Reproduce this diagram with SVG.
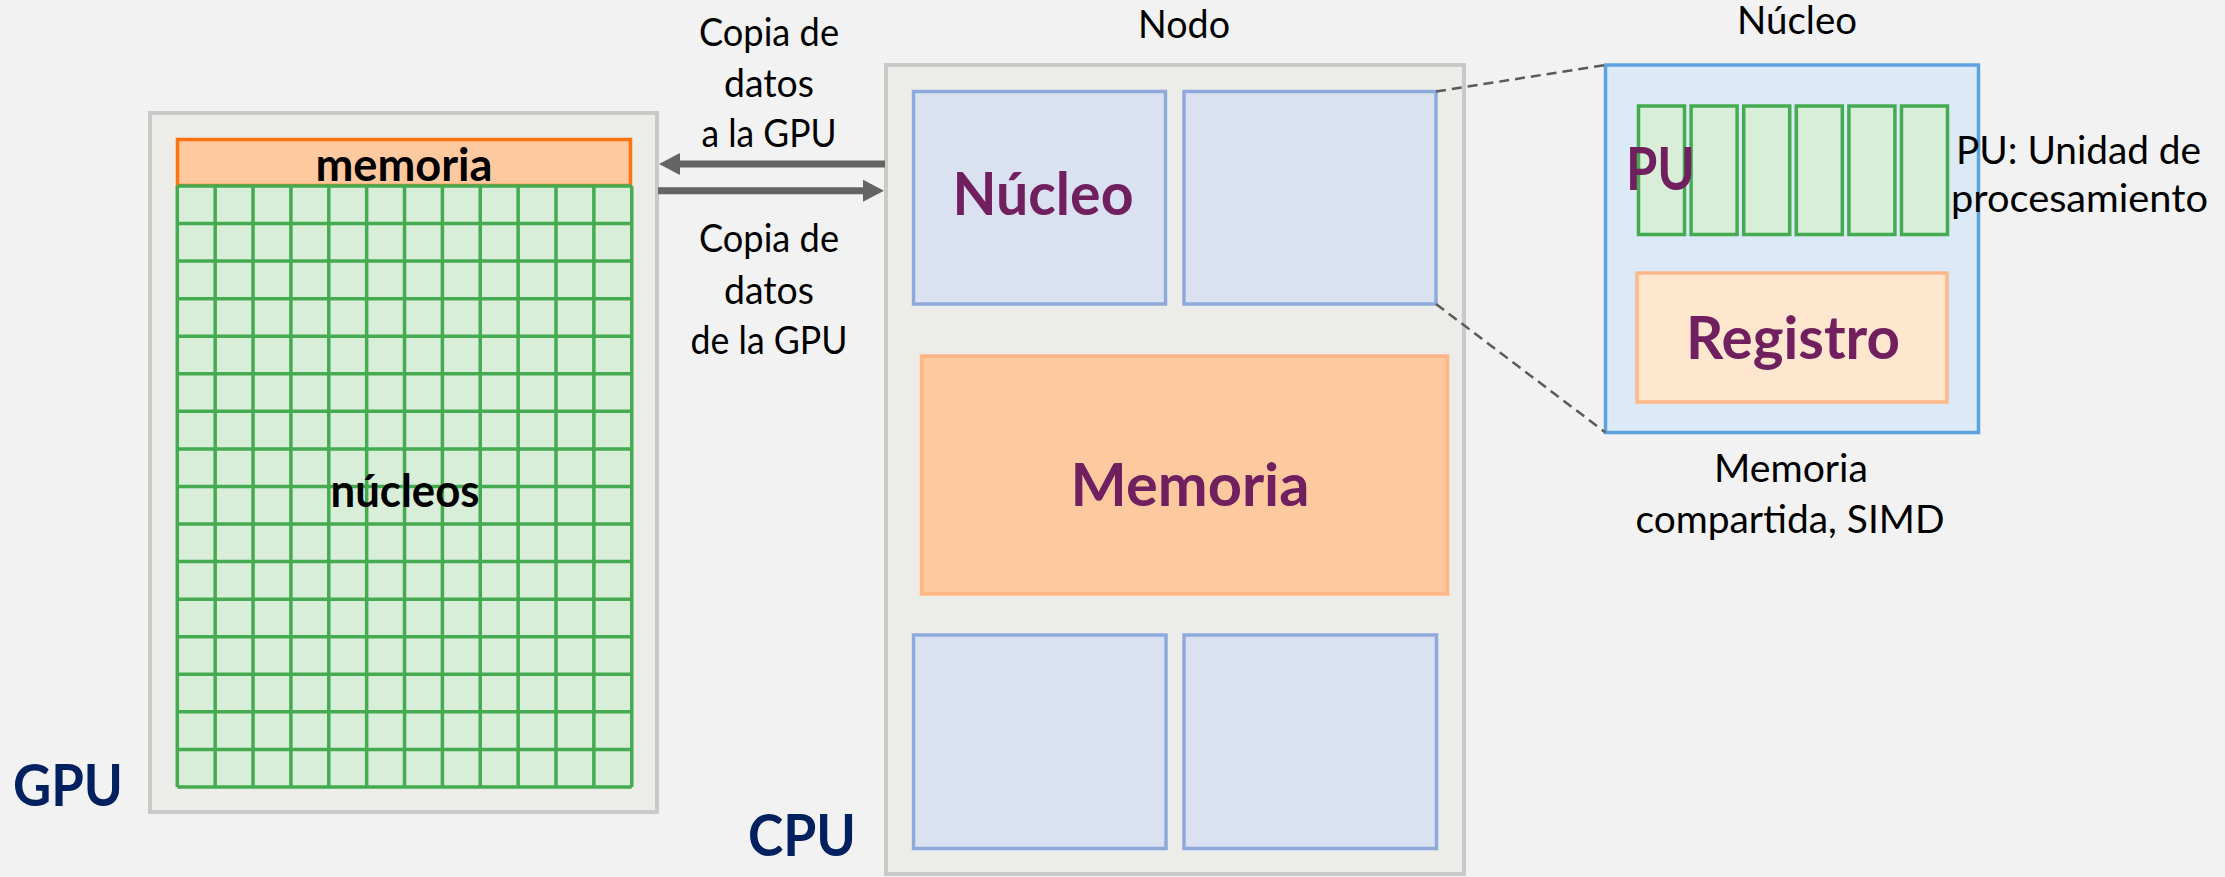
<svg xmlns="http://www.w3.org/2000/svg" width="2225" height="877" viewBox="0 0 2225 877">
  <defs>
    <marker id="head" markerUnits="userSpaceOnUse" markerWidth="22" markerHeight="22" viewBox="0 0 22 22" refX="0" refY="11" orient="auto">
      <path d="M0,0 L21,11 L0,22 z" fill="#646464"/>
    </marker>
  </defs>
  <style>
    text { font-family: Lato, "Liberation Sans", sans-serif; }
    .lbl { font-size: 39px; fill: #000; }
    .bold { font-weight: bold; }
    .purple { font-weight: bold; fill: #70205f; font-size: 59px; }
    .navy { font-weight: bold; fill: #002060; font-size: 57px; }
    .frame { fill: #ecece8; stroke: #c9c9c9; stroke-width: 4; }
    .core { fill: #dae1f0; stroke: #8eaadc; stroke-width: 3.5; }
    .mem { fill: #ffc9a0; stroke: #ffb584; stroke-width: 3.5; }
    .pu { fill: #d8eed8; stroke: #45ab50; stroke-width: 3.5; }
    .arrow { stroke: #646464; stroke-width: 7; fill: none; }
    .zoom { stroke: #5a5a5a; stroke-width: 2.5; stroke-dasharray: 10 6; fill: none; }
  </style>

  <rect width="2225" height="877" fill="#f2f2f2"/>

  <!-- GPU: memory strip over a 12 x 16 grid of cores -->
  <g id="gpu">
    <rect class="frame" x="150" y="113" width="507" height="699"/>
    <rect x="177.5" y="139.5" width="453" height="46" fill="#ffc9a0" stroke="#ff7410" stroke-width="3.5"/>
    <rect x="177.3" y="186" width="454.4" height="601" fill="#d8eed8"/>
    <path fill="none" stroke="#45ab50" stroke-width="3.5" d="
      M177.3,186V787 M215.17,186V787 M253.04,186V787 M290.91,186V787 M328.78,186V787 M366.65,186V787 M404.52,186V787
      M442.39,186V787 M480.26,186V787 M518.13,186V787 M556,186V787 M593.87,186V787 M631.74,186V787
      M177.3,186H631.74 M177.3,223.56H631.74 M177.3,261.12H631.74 M177.3,298.68H631.74 M177.3,336.24H631.74
      M177.3,373.8H631.74 M177.3,411.36H631.74 M177.3,448.92H631.74 M177.3,486.48H631.74 M177.3,524.04H631.74
      M177.3,561.6H631.74 M177.3,599.16H631.74 M177.3,636.72H631.74 M177.3,674.28H631.74 M177.3,711.84H631.74
      M177.3,749.4H631.74 M177.3,786.96H631.74"/>
    <text class="bold" x="404" y="181" font-size="46" text-anchor="middle" textLength="177" lengthAdjust="spacingAndGlyphs">memoria</text>
    <text class="bold" x="405" y="507" font-size="46" text-anchor="middle" textLength="149" lengthAdjust="spacingAndGlyphs">núcleos</text>
    <text class="navy" x="13" y="806" textLength="110" lengthAdjust="spacingAndGlyphs">GPU</text>
  </g>

  <!-- CPU node -->
  <g id="cpu">
    <rect class="frame" x="886" y="65" width="578" height="809"/>
    <text class="lbl" x="1184" y="38" text-anchor="middle" textLength="92" lengthAdjust="spacingAndGlyphs">Nodo</text>
    <g id="core-1">
      <rect class="core" x="913.5" y="91.5" width="252" height="212.5"/>
      <text class="purple" x="1043" y="215" text-anchor="middle" textLength="181" lengthAdjust="spacingAndGlyphs">Núcleo</text>
    </g>
    <rect id="core-2" class="core" x="1184" y="91.5" width="252" height="212.5"/>
    <g id="cpu-memory">
      <rect class="mem" x="921.5" y="356" width="526" height="238"/>
      <text class="purple" x="1190" y="506" text-anchor="middle" textLength="239" lengthAdjust="spacingAndGlyphs">Memoria</text>
    </g>
    <rect id="core-3" class="core" x="913.5" y="635" width="252.5" height="213.5"/>
    <rect id="core-4" class="core" x="1184" y="635" width="252.5" height="213.5"/>
    <text class="navy" x="748" y="856" textLength="108" lengthAdjust="spacingAndGlyphs">CPU</text>
  </g>

  <!-- one core in detail -->
  <g id="core-detail">
    <text class="lbl" x="1797" y="34" text-anchor="middle" textLength="120" lengthAdjust="spacingAndGlyphs">Núcleo</text>
    <rect x="1605.5" y="65" width="373" height="367.5" fill="#dbeaf6" stroke="#5ca2df" stroke-width="3.5"/>
    <g id="pus">
      <rect class="pu" x="1638.5" y="106" width="46" height="128.5"/>
      <rect class="pu" x="1691.1" y="106" width="46" height="128.5"/>
      <rect class="pu" x="1743.7" y="106" width="46" height="128.5"/>
      <rect class="pu" x="1796.3" y="106" width="46" height="128.5"/>
      <rect class="pu" x="1848.9" y="106" width="46" height="128.5"/>
      <rect class="pu" x="1901.5" y="106" width="46" height="128.5"/>
    </g>
    <text class="purple" x="1626" y="190" textLength="69" lengthAdjust="spacingAndGlyphs">PU</text>
    <g id="register">
      <rect x="1637" y="273" width="310" height="129" fill="#ffe6cf" stroke="#fdb98a" stroke-width="3.5"/>
      <text class="purple" x="1793" y="359" text-anchor="middle" textLength="214" lengthAdjust="spacingAndGlyphs">Registro</text>
    </g>
    <text class="lbl" x="1956" y="164" textLength="245" lengthAdjust="spacingAndGlyphs">PU: Unidad de</text>
    <text class="lbl" x="1951" y="212" textLength="257" lengthAdjust="spacingAndGlyphs">procesamiento</text>
    <text class="lbl" x="1791" y="482" text-anchor="middle" textLength="154" lengthAdjust="spacingAndGlyphs">Memoria</text>
    <text class="lbl" x="1790" y="533" text-anchor="middle" textLength="309" lengthAdjust="spacingAndGlyphs">compartida, SIMD</text>
  </g>

  <!-- transfer labels -->
  <g id="copy-labels">
    <text class="lbl" x="769" y="46" text-anchor="middle" textLength="140" lengthAdjust="spacingAndGlyphs">Copia de</text>
    <text class="lbl" x="769" y="97" text-anchor="middle" textLength="90" lengthAdjust="spacingAndGlyphs">datos</text>
    <text class="lbl" x="769" y="147" text-anchor="middle" textLength="135" lengthAdjust="spacingAndGlyphs">a la GPU</text>
    <text class="lbl" x="769" y="252" text-anchor="middle" textLength="140" lengthAdjust="spacingAndGlyphs">Copia de</text>
    <text class="lbl" x="769" y="304" text-anchor="middle" textLength="90" lengthAdjust="spacingAndGlyphs">datos</text>
    <text class="lbl" x="769" y="354" text-anchor="middle" textLength="157" lengthAdjust="spacingAndGlyphs">de la GPU</text>
  </g>

  <!-- connectors -->
  <g id="connectors">
    <line class="arrow" x1="885" y1="164" x2="680" y2="164" marker-end="url(#head)"/>
    <line class="arrow" x1="658" y1="190.7" x2="863" y2="190.7" marker-end="url(#head)"/>
    <line class="zoom" x1="1436" y1="91.5" x2="1605.5" y2="65"/>
    <line class="zoom" x1="1436" y1="304" x2="1605.5" y2="432.5"/>
  </g>
</svg>
